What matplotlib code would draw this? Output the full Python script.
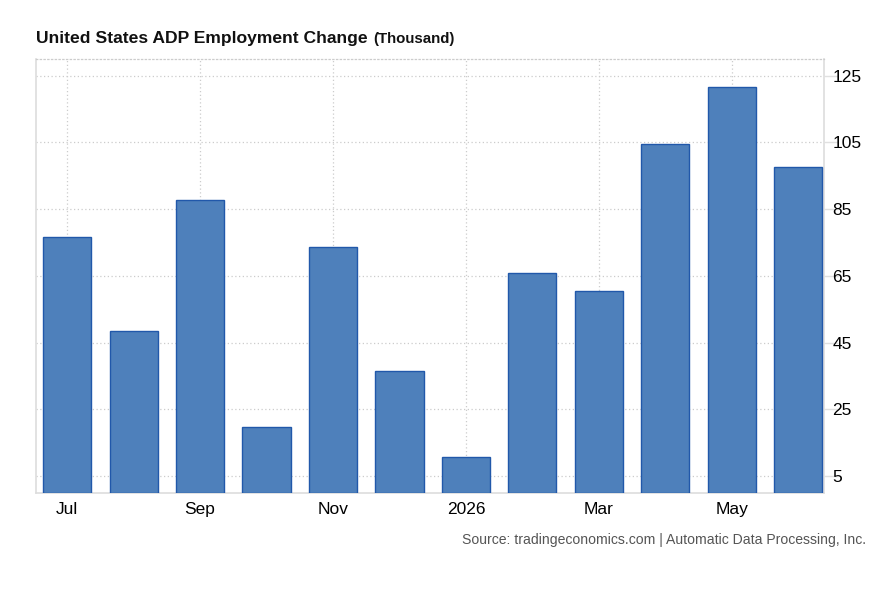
import numpy as np
import matplotlib.pyplot as plt

plt.rcParams['font.family'] = ['Liberation Sans', 'DejaVu Sans']

months = ['Jul', 'Aug', 'Sep', 'Oct', 'Nov', 'Dec',
          'Jan', 'Feb', 'Mar', 'Apr', 'May', 'Jun']
values = [76.6, 48.6, 87.7, 19.6, 73.7, 36.6,
          10.8, 65.8, 60.4, 104.6, 121.6, 97.6]
tick_labels = ['Jul', '', 'Sep', '', 'Nov', '', '2026', '', 'Mar', '', 'May', '']
y_ticks = [5, 25, 45, 65, 85, 105, 125]

fig = plt.figure(figsize=(8.82, 6.03), dpi=100)
ax = fig.add_axes([36 / 882, 1 - 492.7 / 603, (824 - 36) / 882, (492.7 - 59) / 603])

x = np.arange(len(values))
ax.bar(x, values, width=0.725, color='#4e80bb', edgecolor='#2158aa',
       linewidth=1.0, zorder=3)

ax.set_xlim(-0.47, 11.39)
ax.set_ylim(0, 130)

ax.set_xticks(x[::2])
ax.set_xticklabels(tick_labels[::2], fontsize=12.5)
ax.tick_params(axis='x', length=0, pad=7)

ax.yaxis.tick_right()
ax.set_yticks(y_ticks)
ax.set_yticklabels([str(v) for v in y_ticks], fontsize=12.5)
ax.tick_params(axis='y', length=10, width=1, color='#e0e0e0', pad=-4)

ax.grid(True, color='#cccccc', linestyle=(0, (1, 2)), linewidth=0.9, zorder=0)

for side in ['left', 'right', 'bottom']:
    ax.spines[side].set_color('#dddddd')
    ax.spines[side].set_linewidth(1.2)
ax.spines['top'].set_color('#cccccc')
ax.spines['top'].set_linestyle((0, (1, 2)))
ax.spines['top'].set_linewidth(0.9)

fig.text(36 / 882, 1 - 39 / 603, 'United States ADP Employment Change',
         fontsize=12.6, fontweight='bold', va='center', ha='left', color='#111111')
fig.text(373 / 882, 1 - 39.5 / 603, '(Thousand)',
         fontsize=10.8, fontweight='bold', va='center', ha='left', color='#111111')
fig.text(866 / 882, 1 - 540 / 603,
         'Source: tradingeconomics.com | Automatic Data Processing, Inc.',
         fontsize=10.05, ha='right', va='center', color='#555555')

fig.savefig('out.png', dpi=100)
